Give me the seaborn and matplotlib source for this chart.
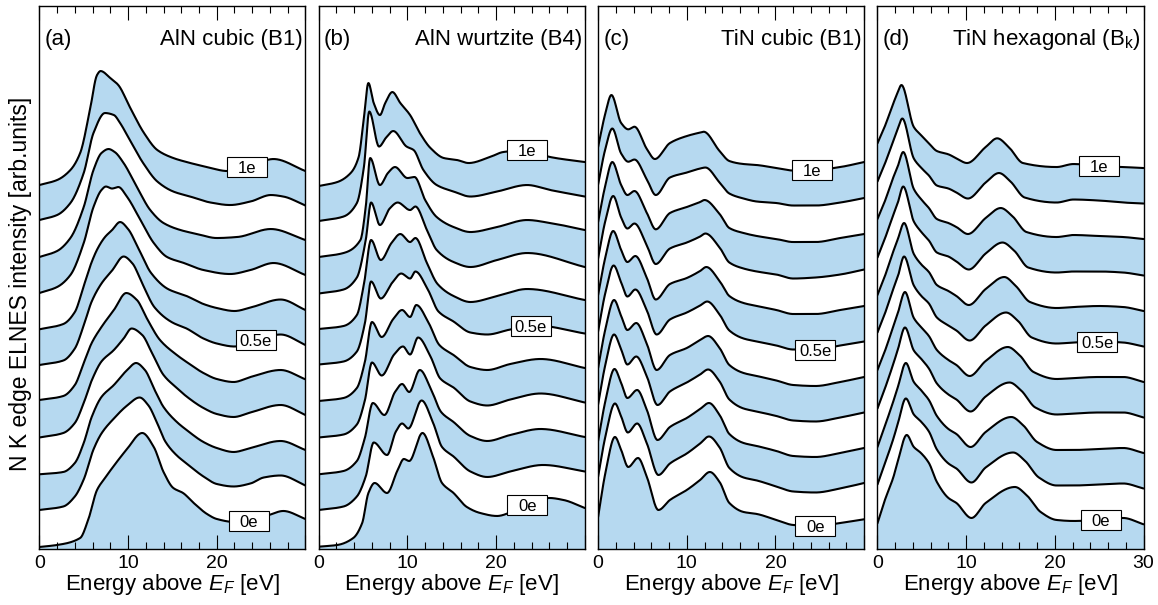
import numpy as np
import pandas as pd
import matplotlib
matplotlib.use('Agg')
import matplotlib.pyplot as plt
import seaborn as sns
from matplotlib.patches import Rectangle
from matplotlib.ticker import MultipleLocator

# ── Data: knots (energy in eV, intensity in arb. units) ──
charges = ['0e', '0.1e', '0.2e', '0.3e', '0.4e', '0.5e', '0.6e', '0.7e', '0.8e', '0.9e', '1e']

aln_b1_energy = [
    [0, 2.0, 4.6, 5.5, 6.5, 7.4, 8.3, 9.8, 11.6, 12.9, 14.0, 15.1, 16.2, 17.4, 18.9, 20.0, 22.0, 24.0, 25.9, 27.5, 30],
    [0, 2.7, 4.0, 5.0, 6.1, 7.0, 8.4, 9.9, 11.3, 12.3, 13.3, 14.2, 15.5, 16.6, 18.5, 20.0, 21.9, 23.8, 25.3, 27.2, 30],
    [0, 2.7, 4.0, 5.0, 5.9, 7.0, 8.4, 9.9, 10.9, 11.9, 13.0, 14.0, 15.5, 16.6, 18.5, 20.0, 21.9, 23.8, 27.2, 30],
    [0, 2.7, 4.0, 5.0, 5.9, 7.0, 8.4, 9.5, 10.4, 11.6, 12.7, 14.0, 15.5, 16.6, 18.5, 20.0, 21.9, 23.8, 27.2, 30],
    [0, 2.7, 4.0, 5.0, 5.9, 7.0, 8.4, 9.8, 11.0, 12.1, 13.6, 15.5, 16.6, 18.5, 20.0, 21.9, 23.8, 27.2, 30],
    [0, 2.7, 4.0, 5.0, 5.9, 7.0, 8.2, 9.5, 10.5, 11.6, 13.0, 15.0, 16.6, 18.5, 20.0, 22.0, 24.0, 27.2, 30],
    [0, 2.7, 4.0, 5.0, 5.9, 6.6, 7.4, 8.2, 9.1, 10.0, 11.2, 12.6, 14.5, 16.6, 18.5, 20.0, 22.0, 24.0, 27.2, 30],
    [0, 2.0, 3.5, 5.0, 6.1, 7.0, 7.5, 8.2, 8.9, 9.9, 11.4, 12.9, 14.4, 16.3, 18.5, 21.5, 23.8, 26.4, 30],
    [0, 2.0, 3.5, 5.0, 6.1, 7.0, 7.8, 8.5, 9.5, 11.0, 12.5, 14.0, 15.9, 17.8, 20.0, 22.3, 26.1, 30],
    [0, 2.0, 3.5, 5.0, 6.1, 7.4, 8.4, 9.1, 10.2, 11.7, 13.3, 15.1, 17.0, 19.3, 21.5, 23.8, 26.1, 27.5, 30],
    [0, 2.0, 3.5, 4.6, 5.7, 6.5, 6.9, 8.0, 8.9, 10.2, 11.8, 13.3, 15.1, 16.6, 18.9, 21.2, 23.5, 26.4, 30],
]
aln_b1_intensity = [
    [2, 4, 11, 29, 59, 71, 82, 99, 116, 102, 77, 61, 56, 46, 35, 30, 27, 29, 34, 38, 30],
    [3.5, 7, 17, 34, 64, 80, 95, 108, 116, 108, 90, 72, 58, 50, 37, 29.5, 27, 30, 36, 38, 28],
    [3.7, 6, 15, 35, 61, 81, 93, 108, 115, 108, 88, 71, 56, 48, 36, 30, 26, 30, 37, 28],
    [5, 9.5, 19.5, 39.5, 62, 81, 92.5, 104, 114, 107.5, 89.5, 67.5, 54.5, 46, 34.5, 28.5, 25.5, 30, 37.5, 27.5],
    [7, 11, 22, 44, 64, 80, 97, 114, 107, 89, 67, 52, 45, 34, 28, 25, 30, 37, 27.7],
    [6.5, 11, 23, 46, 70, 88, 101, 115, 108, 88, 64, 49, 43, 33, 28, 25, 30, 37, 26.5],
    [6.7, 12, 24, 50, 74, 88, 99, 106, 114, 107, 87, 63, 47, 40, 32, 28, 25, 29, 36.5, 26],
    [7.5, 13.5, 25.5, 57.5, 93.5, 110.5, 114, 112, 113.5, 103.5, 80.5, 57.5, 43.5, 37.5, 30.5, 26.5, 30.5, 37.5, 25.5],
    [8, 14, 27, 58, 95, 112, 116, 113, 102, 78, 55, 42, 35, 31, 27, 28, 36, 25],
    [9.5, 14.5, 26.5, 56.5, 96.5, 116.5, 114.5, 106.5, 89.5, 66.5, 48, 38, 33, 27, 24.5, 28, 34.5, 33, 24],
    [9, 14, 24, 41, 84, 119, 123, 116, 109, 87, 61, 44, 36, 32, 27, 23, 27, 35, 23],
]

aln_b4_energy = [
    [0, 2.1, 3.9, 4.9, 5.6, 6.3, 7.7, 8.9, 9.6, 10.2, 11.7, 12.9, 13.9, 15.2, 16.7, 18.2, 20.1, 22.0, 24.5, 26.0, 27.6, 30],
    [0, 2.8, 4.3, 5.3, 6.2, 7.7, 8.7, 9.4, 10.1, 11.6, 12.9, 13.9, 15.2, 17.1, 19.0, 21.6, 25.3, 30],
    [0, 2.8, 4.3, 5.2, 6.1, 7.4, 8.6, 9.4, 10.2, 11.4, 12.7, 13.8, 15.2, 17.1, 19.0, 21.6, 25.0, 30],
    [0, 2.8, 4.3, 5.2, 6.0, 7.1, 8.5, 9.5, 10.3, 11.2, 12.6, 13.7, 15.2, 17.1, 19.0, 21.6, 25.0, 30],
    [0, 2.8, 4.3, 5.2, 6.0, 7.1, 8.4, 9.4, 10.3, 11.0, 12.4, 13.6, 15.2, 17.1, 19.0, 21.6, 25.0, 30],
    [0, 2.8, 4.3, 5.2, 5.9, 7.0, 8.3, 9.3, 10.3, 10.9, 12.3, 13.5, 15.2, 17.1, 19.0, 21.6, 24.5, 30],
    [0, 2.8, 4.3, 5.1, 5.9, 7.0, 8.2, 9.2, 10.3, 10.9, 12.2, 13.4, 15.2, 17.1, 20.1, 23.5, 30],
    [0, 2.8, 4.3, 5.3, 5.9, 6.9, 8.0, 8.9, 10.3, 10.9, 12.2, 13.3, 15.2, 17.1, 20.1, 23.5, 30],
    [0, 2.8, 4.7, 5.3, 5.8, 6.9, 7.8, 8.6, 10.0, 10.8, 12.0, 13.3, 15.2, 17.1, 20.1, 23.5, 26.1, 30],
    [0, 2.8, 4.3, 5.1, 5.7, 6.8, 7.6, 8.4, 9.9, 10.7, 11.8, 13.3, 15.2, 17.1, 20.1, 23.5, 26.1, 30],
    [0, 2.1, 3.6, 4.5, 5.1, 5.6, 6.2, 6.9, 7.5, 8.3, 9.2, 10.3, 11.4, 12.6, 14.1, 15.6, 16.9, 19.3, 20.8, 23.5, 26.1, 30],
]
aln_b4_intensity = [
    [2.3, 4, 11, 26, 56, 66, 56, 79, 90, 88, 116, 92, 66, 56, 42, 36, 33, 38, 48, 51, 49, 41],
    [3.5, 7, 17, 37, 71, 58.5, 82, 90, 85, 113, 90.5, 66.5, 57, 42, 36.5, 42, 48.5, 42],
    [3.7, 7, 17, 40, 75, 63, 86, 94, 86, 108, 88, 66, 56, 42, 37, 43, 49, 41],
    [5, 8, 18, 42, 80, 67, 88, 96, 88, 105, 86, 64, 55, 41, 37, 43, 49, 40],
    [6, 9, 19, 45, 85, 70, 88, 97, 90, 102, 84, 62, 52, 40, 37, 43, 48, 39],
    [7, 10, 20, 48, 90, 73, 89, 98, 93, 100, 82, 60, 50, 39, 37, 42, 46, 38],
    [7, 10, 21, 52, 96, 76, 93, 102, 94, 98, 73, 52, 40, 34, 40, 47, 36],
    [7, 11, 23, 60.5, 98, 75.5, 92, 98, 90.5, 94, 70.5, 50.5, 38.5, 33.5, 40.5, 47.5, 33.5],
    [8, 12, 25, 58, 107, 80, 92, 98, 87, 88, 65, 48, 38, 33, 38, 45, 42, 35],
    [8.5, 13, 26.5, 63, 118, 83, 92, 98.5, 83, 79.5, 59.5, 44.5, 38, 33, 38, 44.5, 39.5, 33],
    [8, 12, 21, 37, 77, 111, 91, 79, 91, 102, 91, 79, 61, 46, 36, 34, 31, 37, 42, 44, 37, 32],
]

tin_b1_energy = [
    [0, 0.8, 1.9, 2.6, 3.4, 4.5, 5.5, 6.8, 8.1, 10.0, 11.5, 12.6, 13.7, 14.8, 16.4, 17.9, 20.1, 22.0, 24.5, 27.3, 30],
    [0, 0.8, 1.9, 2.6, 3.35, 4.4, 5.5, 6.8, 8.1, 10.0, 11.5, 12.5, 13.7, 14.8, 16.4, 17.9, 20.1, 22.0, 24.5, 27.3, 30],
    [0, 0.8, 1.85, 2.6, 3.3, 4.4, 5.5, 6.7, 8.1, 10.0, 11.5, 12.5, 13.7, 14.8, 16.4, 17.9, 20.1, 22.0, 24.5, 27.3, 30],
    [0, 0.8, 1.8, 2.6, 3.3, 4.3, 5.5, 6.7, 8.1, 10.0, 11.5, 12.4, 13.7, 14.8, 16.4, 17.9, 20.1, 22.0, 24.5, 27.3, 30],
    [0, 0.8, 1.8, 2.6, 3.3, 4.3, 5.5, 6.6, 8.1, 10.0, 11.5, 12.4, 13.7, 14.8, 16.4, 17.9, 20.1, 22.0, 24.5, 27.3, 30],
    [0, 0.8, 1.75, 2.6, 3.3, 4.2, 5.5, 6.6, 8.1, 10.0, 11.5, 12.3, 13.7, 14.8, 16.4, 17.9, 20.1, 22.0, 24.5, 27.3, 30],
    [0, 0.8, 1.7, 2.6, 3.3, 4.2, 5.5, 6.5, 8.1, 10.0, 11.5, 12.2, 13.7, 14.8, 16.4, 17.9, 20.1, 22.0, 24.5, 27.3, 30],
    [0, 0.8, 1.7, 2.6, 3.3, 4.1, 5.5, 6.5, 8.1, 10.0, 11.5, 12.1, 13.7, 14.8, 16.4, 17.9, 20.1, 22.0, 24.5, 27.3, 30],
    [0, 0.8, 1.6, 2.6, 3.3, 4.1, 5.5, 6.5, 8.1, 10.0, 11.5, 12.0, 13.7, 14.8, 16.4, 17.9, 20.1, 22.0, 24.5, 27.3, 30],
    [0, 0.8, 1.6, 2.6, 3.4, 4.1, 5.5, 6.5, 8.1, 10.0, 11.5, 12.1, 13.7, 14.8, 16.4, 17.9, 20.1, 22.0, 24.5, 27.3, 30],
    [0, 0.8, 1.5, 2.6, 3.4, 4.1, 5.5, 6.4, 8.1, 10.0, 11.5, 11.9, 13.7, 14.8, 16.4, 17.9, 20.1, 22.0, 24.5, 27.3, 30],
]
tin_b1_intensity = [
    [32, 75, 112, 99, 82, 91, 72, 39, 49, 59, 69, 77, 67, 46, 37, 35, 29, 24, 23, 26, 29.7],
    [36.7, 76, 110, 97, 81, 90, 70, 38.5, 50, 60, 70, 77, 66, 45.5, 36, 33, 27, 22, 21, 25, 30.5],
    [37, 76, 109, 95, 80, 88, 68, 38, 51, 60, 69, 75, 63, 44, 35, 32, 27, 22, 21, 25, 30],
    [38, 77, 108, 93, 78, 86, 66, 37.5, 51, 60, 68, 73, 61, 43, 34, 31, 26.5, 22, 21, 25, 30],
    [39, 77, 107, 91, 77, 84, 63, 37, 52, 59, 67, 71, 59, 42, 34, 31, 26.5, 22, 21, 25, 30],
    [40, 78, 106, 89, 75, 82, 61, 37, 52, 59, 66, 70, 57, 41, 33, 30, 26, 22, 22, 26, 30],
    [41, 78, 105, 86, 74, 80, 58, 36.5, 52, 58, 65, 69, 55, 40, 33, 30, 26, 22, 22, 26, 30],
    [42, 79, 104.5, 83, 72, 77, 55, 36.5, 52, 58, 64, 67, 53, 38, 32, 29, 26, 22, 23, 26, 31],
    [43, 79, 103, 80, 70, 74, 52, 35.7, 52, 58, 63, 65, 51, 37, 32, 29, 26, 23, 23, 27, 31],
    [45, 80, 101, 76, 67.8, 70, 50, 34.5, 52, 57, 61, 62, 47, 36, 31, 28, 26.5, 24, 24, 27, 31.5],
    [47, 80, 99, 71, 64.7, 67.3, 45, 35, 51, 58, 61.5, 62.3, 43, 33, 30, 29, 26, 23.5, 24, 27, 32],
]

tin_bk_energy = [
    [0, 0.8, 1.8, 2.3, 3.3, 4.1, 4.9, 5.8, 6.7, 8.0, 8.9, 10.6, 12.2, 15.5, 16.8, 18.4, 20.2, 22.1, 25.0, 27.7, 30],
    [0, 0.8, 1.8, 2.3, 3.2, 4.1, 4.9, 5.8, 6.7, 8.0, 8.9, 10.6, 12.2, 15.3, 16.6, 18.2, 20.2, 22.1, 25.0, 27.7, 30],
    [0, 0.8, 1.8, 2.3, 3.2, 4.1, 4.9, 5.8, 6.7, 8.0, 8.9, 10.5, 12.2, 15.1, 16.4, 18.0, 20.2, 22.1, 25.0, 27.7, 30],
    [0, 0.8, 1.8, 2.3, 3.1, 4.1, 4.9, 5.8, 6.7, 8.0, 8.9, 10.5, 12.2, 14.9, 16.2, 17.8, 20.2, 22.1, 25.0, 27.7, 30],
    [0, 0.8, 1.8, 2.3, 3.1, 4.1, 4.9, 5.8, 6.7, 8.0, 8.9, 10.4, 12.2, 14.7, 16.0, 17.6, 20.2, 22.1, 25.0, 27.7, 30],
    [0, 0.8, 1.8, 2.3, 3.0, 4.1, 4.9, 5.8, 6.7, 8.0, 8.9, 10.4, 12.2, 14.5, 15.8, 17.4, 20.2, 22.1, 25.0, 27.7, 30],
    [0, 0.8, 1.8, 2.3, 3.0, 4.1, 4.9, 5.8, 6.7, 8.0, 8.9, 10.3, 12.2, 14.3, 15.6, 17.2, 20.2, 22.1, 25.0, 27.7, 30],
    [0, 0.8, 1.8, 2.3, 2.9, 4.1, 4.9, 5.8, 6.7, 8.0, 8.9, 10.3, 12.2, 14.1, 15.4, 17.0, 20.2, 22.1, 25.0, 27.7, 30],
    [0, 0.8, 1.8, 2.3, 2.9, 4.1, 4.9, 5.8, 6.7, 8.0, 8.9, 10.2, 12.2, 13.9, 15.2, 16.8, 20.2, 22.1, 25.0, 27.7, 30],
    [0, 0.8, 1.8, 2.3, 2.8, 4.1, 4.9, 5.8, 6.7, 8.0, 8.9, 10.2, 12.2, 13.7, 15.0, 16.6, 20.2, 22.1, 25.0, 27.7, 30],
    [0, 0.8, 1.8, 2.3, 2.7, 4.1, 4.9, 5.8, 6.7, 8.0, 8.9, 10.1, 12.2, 13.5, 14.8, 16.4, 20.2, 22.1, 25.0, 27.7, 30],
]
tin_bk_intensity = [
    [25.7, 48, 72, 88, 114, 102, 96, 86, 67, 51, 46, 31, 46, 62, 54, 37, 29, 28, 29, 31, 24.7],
    [29, 49, 75, 90, 115, 99, 92, 82, 64, 50, 45, 31, 46, 61, 53, 36, 28, 28, 29, 30, 25],
    [31, 51, 77, 91, 115, 96, 88, 78, 62, 49, 44, 31, 46, 61, 53, 36, 28, 28, 29, 30, 25],
    [34, 53, 79, 93, 115, 92, 84, 74, 59, 48, 43, 31, 46, 60, 52, 35, 28, 29, 30, 30, 25],
    [37, 55, 81, 94, 115, 89, 80, 71, 57, 47, 42, 31, 46, 60, 52, 35, 28, 29, 30, 30, 25],
    [39, 57, 83, 95, 115, 86, 76, 68, 54, 46, 41, 31, 46, 59, 51, 34, 28, 29, 30, 29, 25],
    [41, 59, 85, 97, 113, 82, 72, 64, 51, 45, 40, 31, 47, 59, 50, 34, 28, 29, 30, 29, 25],
    [43, 61, 86, 98, 114, 79, 69, 60, 48, 44, 39, 31, 47, 58, 50, 33, 28, 29, 29, 28, 25],
    [46, 63, 88, 99, 113, 76, 66, 57, 46, 42, 38, 31, 47, 57, 49, 33, 28, 30, 29, 28, 26],
    [48, 65, 89, 101, 111, 71, 62, 54, 44, 41, 37, 31, 47, 56.5, 48, 32, 27, 30, 29, 27, 26],
    [50.7, 67, 91, 102, 109, 67, 59, 50.7, 43, 39.7, 35.7, 31, 47, 55.7, 47, 31, 27, 30, 28, 27, 26],
]

panel_tags = ['(a)', '(b)', '(c)', '(d)']
panel_titles = ['AlN cubic (B1)', 'AlN wurtzite (B4)', 'TiN cubic (B1)', r'TiN hexagonal (B$_{\rm k}$)']
label_charges = ['1e', '0.5e', '0e']
label_energy = [[23.4, 24.4, 23.6], [23.5, 23.9, 23.5], [24.1, 24.5, 24.5], [25.0, 24.8, 25.2]]

# ── Style ─────────────────────────────────────────────────────
OFFSET = 35.5        # vertical shift between successive spectra
FILL = '#b6d9f0'

sns.set_theme(style='ticks')
plt.rcParams['font.family'] = ['Liberation Sans', 'DejaVu Sans']
plt.rcParams['mathtext.fontset'] = 'custom'
plt.rcParams['mathtext.rm'] = 'Liberation Sans'
plt.rcParams['mathtext.it'] = 'Liberation Sans:italic'
plt.rcParams['axes.edgecolor'] = 'black'
plt.rcParams['axes.linewidth'] = 1.0
plt.rcParams['axes.axisbelow'] = False
plt.rcParams['text.color'] = 'black'
plt.rcParams['axes.labelcolor'] = 'black'
plt.rcParams['xtick.color'] = 'black'


def smooth_curve(knot_e, knot_i, grid):
    """Monotone cubic (PCHIP) curve through the read-off knots."""
    x = np.asarray(knot_e, float)
    y = np.asarray(knot_i, float)
    h = np.diff(x)
    d = np.diff(y) / h
    m = np.zeros_like(y)
    w1 = 2 * h[1:] + h[:-1]
    w2 = h[1:] + 2 * h[:-1]
    same = d[:-1] * d[1:] > 0
    inner = np.zeros(len(x) - 2)
    inner[same] = (w1 + w2)[same] / (w1[same] / d[:-1][same] + w2[same] / d[1:][same])
    m[1:-1] = inner
    m[0], m[-1] = d[0], d[-1]
    idx = np.clip(np.searchsorted(x, grid, side='right') - 1, 0, len(x) - 2)
    t = (grid - x[idx]) / h[idx]
    return ((2 * t**3 - 3 * t**2 + 1) * y[idx] + (t**3 - 2 * t**2 + t) * h[idx] * m[idx]
            + (-2 * t**3 + 3 * t**2) * y[idx + 1] + (t**3 - t**2) * h[idx] * m[idx + 1])


grid = np.linspace(0, 30, 601)
panels = [(aln_b1_energy, aln_b1_intensity), (aln_b4_energy, aln_b4_intensity),
          (tin_b1_energy, tin_b1_intensity), (tin_bk_energy, tin_bk_intensity)]

fig, axes = plt.subplots(1, 4, figsize=(11.58, 6.05), dpi=100)
fig.subplots_adjust(left=0.034, right=0.9875, bottom=0.0926, top=0.990, wspace=0.05)

for p, (ax, (e_rows, i_rows)) in enumerate(zip(axes, panels)):
    curves = [smooth_curve(e, i, grid) + k * OFFSET for k, (e, i) in enumerate(zip(e_rows, i_rows))]

    # alternating blue / white bands, bottom band blue
    for k in range(0, len(curves), 2):
        lower = curves[k - 1] if k > 0 else np.zeros_like(grid)
        ax.fill_between(grid, lower, curves[k], color=FILL, lw=0, zorder=1)

    df = pd.DataFrame({
        'energy': np.tile(grid, len(curves)),
        'level': np.concatenate(curves),
        'charge': np.repeat(charges, len(grid)),
    })
    sns.lineplot(data=df, x='energy', y='level', units='charge', estimator=None,
                 color='black', lw=1.5, ax=ax, legend=False, zorder=3)

    # boxed charge labels sitting on the curves
    for lab, e0 in zip(label_charges, label_energy[p]):
        k = charges.index(lab)
        y0 = np.interp(e0, grid, curves[k])
        ax.add_patch(Rectangle((e0 - 2.25, y0 - 10), 4.5, 20, fc='white', ec='black',
                               lw=0.8, zorder=4))
        ax.text(e0, y0, lab, ha='center', va='center_baseline', fontsize=12, zorder=5)

    ax.set_xlim(0, 30)
    ax.set_ylim(0, 543)
    ax.set_yticks([])
    ax.set_xticks([0, 10, 20, 30], labels=['0', '10', '20', '30' if p == 3 else ''])
    ax.xaxis.set_minor_locator(MultipleLocator(2))
    ax.tick_params(axis='x', which='both', direction='in', top=True, bottom=True,
                   width=0.8, labelsize=14, pad=4)
    ax.tick_params(axis='x', which='major', length=10)
    ax.tick_params(axis='x', which='minor', length=5)
    ax.set_xlabel(r'Energy above $E_F$ [eV]', fontsize=16, labelpad=0)
    ax.set_ylabel('')
    ax.text(0.02, 0.939, panel_tags[p], transform=ax.transAxes, ha='left', va='center', fontsize=16)
    ax.text(0.99, 0.939, panel_titles[p], transform=ax.transAxes, ha='right', va='center', fontsize=16)

fig.text(0.008, 0.531, 'N K edge ELNES intensity [arb.units]', rotation=90,
         ha='left', va='center', fontsize=16.5)

fig.savefig('out.png', dpi=100)
plt.close(fig)
print('Saved: out.png')
